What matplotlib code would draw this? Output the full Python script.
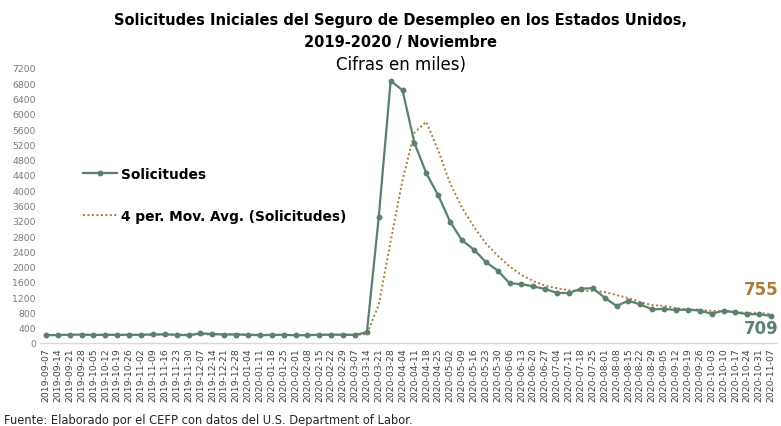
import matplotlib
matplotlib.use('Agg')
import matplotlib.pyplot as plt
import pandas as pd

# semanas (sabado) y solicitudes iniciales, miles
fechas = pd.date_range('2019-09-07', '2020-11-07', freq='7D').strftime('%Y-%m-%d').tolist()
solicitudes = [204, 208, 215, 220, 210, 214, 212, 215, 215, 225, 227, 213, 203, 252, 235, 222, 222,
               214, 204, 211, 216, 201, 205, 214, 219, 217, 211, 282, 3307, 6867, 6615, 5237, 4442,
               3867, 3176, 2687, 2446, 2123, 1897, 1566, 1540, 1482, 1413, 1310, 1308, 1422, 1435,
               1186, 971, 1104, 1011, 881, 893, 866, 873, 849, 767, 845, 802, 758, 751, 709]
y_ticks = list(range(0, 7201, 400))

verde = '#5a8070'
cafe = '#a97b3a'

serie = pd.Series(solicitudes, index=fechas)
media_movil = serie.rolling(4).mean()

plt.rcParams['font.family'] = ['DejaVu Sans']

fig = plt.figure(figsize=(7.81, 4.27), dpi=100)
ax = fig.add_axes([40 / 781, 1 - 344 / 427, 737 / 781, 275 / 427])

x = list(range(len(fechas)))
ax.plot(x, serie.values, color=verde, lw=1.6, marker='o', markersize=3.2, label='Solicitudes', zorder=3)
ax.plot(x, media_movil.values, color=cafe, lw=1.4, ls=(0, (1, 1.3)), label='4 per. Mov. Avg. (Solicitudes)', zorder=2)

ax.set_xlim(-0.5, len(fechas) - 0.5)
ax.set_ylim(0, 7200)
ax.set_yticks(y_ticks)
ax.set_yticklabels([str(v) for v in y_ticks], fontsize=6.7, color='#7a7a7a')
ax.set_xticks(x)
ax.set_xticklabels(fechas, rotation=90, fontsize=6.7, color='#404040')
ax.tick_params(axis='both', length=0, pad=3)

for s in ['top', 'right', 'left']:
    ax.spines[s].set_visible(False)
ax.spines['bottom'].set_color('#d9d9d9')
ax.spines['bottom'].set_linewidth(1)

leg = ax.legend(loc='upper left', bbox_to_anchor=(70.5 / 781, 1 - 155.5 / 427), bbox_transform=fig.transFigure,
                frameon=False, prop={'weight': 'bold', 'size': 9.9}, handlelength=2.5, handletextpad=0.3,
                labelspacing=2.05)

# etiquetas del ultimo dato
ax.text(len(fechas) - 0.4, media_movil.values[-1] + 660, f'{media_movil.values[-1]:.0f}', color=cafe,
        fontsize=12, fontweight='bold', ha='right', va='center')
ax.text(len(fechas) - 0.4, solicitudes[-1] - 316, f'{solicitudes[-1]}', color=verde,
        fontsize=12, fontweight='bold', ha='right', va='center')

fig.text(0.513, 1 - 21 / 427, 'Solicitudes Iniciales del Seguro de Desempleo en los Estados Unidos,',
         ha='center', va='center', fontsize=10.5, fontweight='bold')
fig.text(0.513, 1 - 43 / 427, '2019-2020 / Noviembre', ha='center', va='center', fontsize=10.5, fontweight='bold')
fig.text(0.513, 1 - 65 / 427, 'Cifras en miles)', ha='center', va='center', fontsize=12)
fig.text(4 / 781, 1 - 421 / 427, 'Fuente: Elaborado por el CEFP con datos del U.S. Department of Labor.',
         ha='left', va='center', fontsize=8.3, color='#262626')

fig.savefig('out.png', dpi=100)
